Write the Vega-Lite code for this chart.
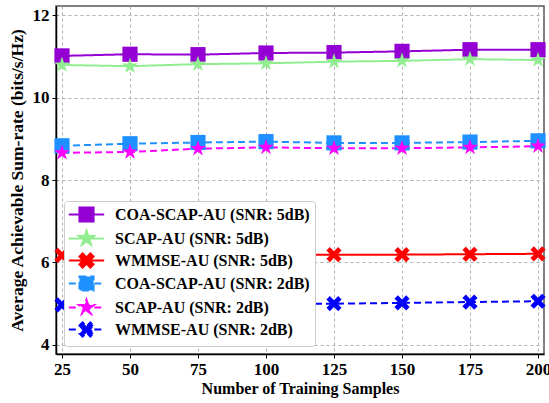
{
  "$schema": "https://vega.github.io/schema/vega-lite/v6.json",
  "width": 488,
  "height": 348,
  "autosize": "none",
  "padding": {"left": 56, "top": 6, "right": 5, "bottom": 49},
  "background": "white",
  "config": {
    "font": "Liberation Serif",
    "view": {"stroke": "#555555", "strokeWidth": 1.5},
    "axis": {
      "labelFont": "Liberation Serif", "labelFontWeight": "bold", "labelFontSize": 17, "labelColor": "black",
      "titleFont": "Liberation Serif", "titleFontWeight": "bold", "titleFontSize": 16, "titleColor": "black",
      "domainColor": "black", "domainWidth": 1.5, "tickColor": "black", "tickSize": 4, "tickWidth": 1,
      "gridColor": "#b0b0b0", "gridDash": [3, 3], "gridWidth": 1
    }
  },
  "data": {"values": [
    {"n": 25, "rate": 11.01, "series": "COA-SCAP-AU (SNR: 5dB)", "method": "COA"},
    {"n": 50, "rate": 11.05, "series": "COA-SCAP-AU (SNR: 5dB)", "method": "COA"},
    {"n": 75, "rate": 11.04, "series": "COA-SCAP-AU (SNR: 5dB)", "method": "COA"},
    {"n": 100, "rate": 11.08, "series": "COA-SCAP-AU (SNR: 5dB)", "method": "COA"},
    {"n": 125, "rate": 11.09, "series": "COA-SCAP-AU (SNR: 5dB)", "method": "COA"},
    {"n": 150, "rate": 11.12, "series": "COA-SCAP-AU (SNR: 5dB)", "method": "COA"},
    {"n": 175, "rate": 11.16, "series": "COA-SCAP-AU (SNR: 5dB)", "method": "COA"},
    {"n": 200, "rate": 11.16, "series": "COA-SCAP-AU (SNR: 5dB)", "method": "COA"},
    {"n": 25, "rate": 10.79, "series": "SCAP-AU (SNR: 5dB)", "method": "SCAP"},
    {"n": 50, "rate": 10.76, "series": "SCAP-AU (SNR: 5dB)", "method": "SCAP"},
    {"n": 75, "rate": 10.81, "series": "SCAP-AU (SNR: 5dB)", "method": "SCAP"},
    {"n": 100, "rate": 10.83, "series": "SCAP-AU (SNR: 5dB)", "method": "SCAP"},
    {"n": 125, "rate": 10.87, "series": "SCAP-AU (SNR: 5dB)", "method": "SCAP"},
    {"n": 150, "rate": 10.89, "series": "SCAP-AU (SNR: 5dB)", "method": "SCAP"},
    {"n": 175, "rate": 10.93, "series": "SCAP-AU (SNR: 5dB)", "method": "SCAP"},
    {"n": 200, "rate": 10.91, "series": "SCAP-AU (SNR: 5dB)", "method": "SCAP"},
    {"n": 25, "rate": 6.17, "series": "WMMSE-AU (SNR: 5dB)", "method": "WMMSE"},
    {"n": 50, "rate": 6.17, "series": "WMMSE-AU (SNR: 5dB)", "method": "WMMSE"},
    {"n": 75, "rate": 6.18, "series": "WMMSE-AU (SNR: 5dB)", "method": "WMMSE"},
    {"n": 100, "rate": 6.18, "series": "WMMSE-AU (SNR: 5dB)", "method": "WMMSE"},
    {"n": 125, "rate": 6.19, "series": "WMMSE-AU (SNR: 5dB)", "method": "WMMSE"},
    {"n": 150, "rate": 6.19, "series": "WMMSE-AU (SNR: 5dB)", "method": "WMMSE"},
    {"n": 175, "rate": 6.2, "series": "WMMSE-AU (SNR: 5dB)", "method": "WMMSE"},
    {"n": 200, "rate": 6.21, "series": "WMMSE-AU (SNR: 5dB)", "method": "WMMSE"},
    {"n": 25, "rate": 8.83, "series": "COA-SCAP-AU (SNR: 2dB)", "method": "COA"},
    {"n": 50, "rate": 8.88, "series": "COA-SCAP-AU (SNR: 2dB)", "method": "COA"},
    {"n": 75, "rate": 8.91, "series": "COA-SCAP-AU (SNR: 2dB)", "method": "COA"},
    {"n": 100, "rate": 8.93, "series": "COA-SCAP-AU (SNR: 2dB)", "method": "COA"},
    {"n": 125, "rate": 8.9, "series": "COA-SCAP-AU (SNR: 2dB)", "method": "COA"},
    {"n": 150, "rate": 8.9, "series": "COA-SCAP-AU (SNR: 2dB)", "method": "COA"},
    {"n": 175, "rate": 8.92, "series": "COA-SCAP-AU (SNR: 2dB)", "method": "COA"},
    {"n": 200, "rate": 8.95, "series": "COA-SCAP-AU (SNR: 2dB)", "method": "COA"},
    {"n": 25, "rate": 8.66, "series": "SCAP-AU (SNR: 2dB)", "method": "SCAP"},
    {"n": 50, "rate": 8.68, "series": "SCAP-AU (SNR: 2dB)", "method": "SCAP"},
    {"n": 75, "rate": 8.76, "series": "SCAP-AU (SNR: 2dB)", "method": "SCAP"},
    {"n": 100, "rate": 8.79, "series": "SCAP-AU (SNR: 2dB)", "method": "SCAP"},
    {"n": 125, "rate": 8.77, "series": "SCAP-AU (SNR: 2dB)", "method": "SCAP"},
    {"n": 150, "rate": 8.77, "series": "SCAP-AU (SNR: 2dB)", "method": "SCAP"},
    {"n": 175, "rate": 8.79, "series": "SCAP-AU (SNR: 2dB)", "method": "SCAP"},
    {"n": 200, "rate": 8.82, "series": "SCAP-AU (SNR: 2dB)", "method": "SCAP"},
    {"n": 25, "rate": 4.97, "series": "WMMSE-AU (SNR: 2dB)", "method": "WMMSE"},
    {"n": 50, "rate": 4.98, "series": "WMMSE-AU (SNR: 2dB)", "method": "WMMSE"},
    {"n": 75, "rate": 4.99, "series": "WMMSE-AU (SNR: 2dB)", "method": "WMMSE"},
    {"n": 100, "rate": 4.99, "series": "WMMSE-AU (SNR: 2dB)", "method": "WMMSE"},
    {"n": 125, "rate": 5.0, "series": "WMMSE-AU (SNR: 2dB)", "method": "WMMSE"},
    {"n": 150, "rate": 5.02, "series": "WMMSE-AU (SNR: 2dB)", "method": "WMMSE"},
    {"n": 175, "rate": 5.04, "series": "WMMSE-AU (SNR: 2dB)", "method": "WMMSE"},
    {"n": 200, "rate": 5.06, "series": "WMMSE-AU (SNR: 2dB)", "method": "WMMSE"}
  ]},
  "encoding": {
    "x": {"field": "n", "type": "quantitative", "title": "Number of Training Samples",
      "scale": {"domain": [22.8, 202.2], "nice": false, "zero": false},
      "axis": {"values": [25, 50, 75, 100, 125, 150, 175, 200], "titlePadding": 3, "labelPadding": 3}},
    "y": {"field": "rate", "type": "quantitative", "title": "Average Achievable Sum-rate (bits/s/Hz)",
      "scale": {"domain": [3.78, 12.22], "nice": false, "zero": false},
      "axis": {"values": [4, 6, 8, 10, 12], "titlePadding": 6, "labelPadding": 3, "titleFontSize": 17.5}},
    "color": {"field": "series", "type": "nominal",
      "scale": {
        "domain": ["COA-SCAP-AU (SNR: 5dB)", "SCAP-AU (SNR: 5dB)", "WMMSE-AU (SNR: 5dB)", "COA-SCAP-AU (SNR: 2dB)", "SCAP-AU (SNR: 2dB)", "WMMSE-AU (SNR: 2dB)"],
        "range": ["#9400D3", "#90EE90", "#FF0000", "#1E90FF", "#FF00FF", "#0000FF"]
      },
      "legend": {
        "title": null, "orient": "bottom-left", "offset": 8,
        "labelFont": "Liberation Serif", "labelFontWeight": "bold", "labelFontSize": 16, "labelColor": "black",
        "symbolSize": 200, "symbolStrokeWidth": 2, "rowPadding": 0, "symbolOffset": 9, "labelOffset": 20,
        "padding": 5, "fillColor": "white", "strokeColor": "#cccccc", "cornerRadius": 3, "labelLimit": 300,
        "symbolOpacity": 1,
        "symbolType": {"expr": "(test(/5dB/, datum.value) ? 'M-2.5,0H2.5' : 'M-2.5,0H-1.1M1.1,0H2.5') + (test(/COA/, datum.value) ? 'M-1,-1H1V1H-1Z' : test(/WMMSE/, datum.value) ? 'M-1,-0.55L-0.55,-1L0,-0.45L0.55,-1L1,-0.55L0.45,0L1,0.55L0.55,1L0,0.45L-0.55,1L-1,0.55L-0.45,0Z' : 'M0,-1.1L0.25,-0.34L1.05,-0.34L0.4,0.13L0.65,0.89L0,0.42L-0.65,0.89L-0.4,0.13L-1.05,-0.34L-0.25,-0.34Z')"}
      }
    }
  },
  "layer": [
    {
      "mark": {"type": "line", "strokeWidth": 2},
      "encoding": {
        "strokeDash": {"field": "series", "type": "nominal", "legend": null,
          "scale": {
            "domain": ["COA-SCAP-AU (SNR: 5dB)", "SCAP-AU (SNR: 5dB)", "WMMSE-AU (SNR: 5dB)", "COA-SCAP-AU (SNR: 2dB)", "SCAP-AU (SNR: 2dB)", "WMMSE-AU (SNR: 2dB)"],
            "range": [[1, 0], [1, 0], [1, 0], [7, 4], [7, 4], [7, 4]]
          }}
      }
    },
    {
      "transform": [{"filter": "datum.method === 'COA'"}],
      "mark": {"type": "point", "filled": true, "opacity": 1, "size": 230, "shape": "M-1,-1H1V1H-1Z"}
    },
    {
      "transform": [{"filter": "datum.method === 'SCAP'"}],
      "mark": {"type": "point", "filled": true, "opacity": 1, "size": 230, "shape": "M0,-1.1L0.25,-0.34L1.05,-0.34L0.4,0.13L0.65,0.89L0,0.42L-0.65,0.89L-0.4,0.13L-1.05,-0.34L-0.25,-0.34Z"}
    },
    {
      "transform": [{"filter": "datum.method === 'WMMSE'"}],
      "mark": {"type": "point", "filled": true, "opacity": 1, "size": 230, "shape": "M-1,-0.55L-0.55,-1L0,-0.45L0.55,-1L1,-0.55L0.45,0L1,0.55L0.55,1L0,0.45L-0.55,1L-1,0.55L-0.45,0Z"}
    }
  ]
}
